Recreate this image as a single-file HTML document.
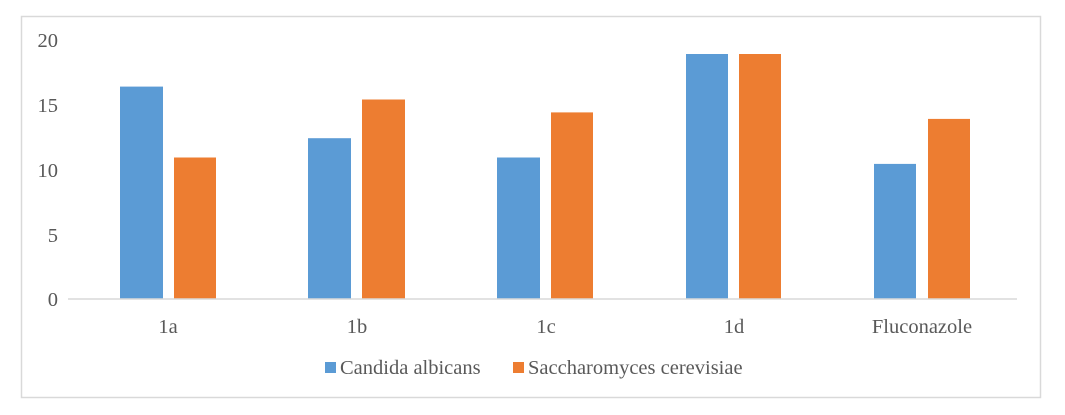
<!DOCTYPE html>
<html><head><style>body{margin:0;background:#fff}svg{display:block}text{font-family:"Liberation Serif",serif;fill:#595959}</style></head>
<body>
<svg width="1065" height="415" xmlns="http://www.w3.org/2000/svg">
<rect x="21.5" y="16.5" width="1019" height="381" fill="#fff" stroke="#d9d9d9" stroke-width="1.5"/>
<g font-size="20.5" text-anchor="end">
<text x="58" y="47">20</text><text x="58" y="112">15</text><text x="58" y="177">10</text><text x="58" y="242">5</text><text x="58" y="306">0</text>
</g>
<g fill="#5b9bd5">
<rect x="120" y="86.6" width="43" height="212.4"/>
<rect x="308" y="138.2" width="43" height="160.8"/>
<rect x="497" y="157.5" width="43" height="141.5"/>
<rect x="686" y="54" width="42" height="245"/>
<rect x="874" y="163.9" width="42" height="135.1"/>
</g>
<g fill="#ed7d31">
<rect x="174" y="157.5" width="42" height="141.5"/>
<rect x="362" y="99.5" width="43" height="199.5"/>
<rect x="551" y="112.4" width="42" height="186.6"/>
<rect x="739" y="54" width="42" height="245"/>
<rect x="928" y="118.9" width="42" height="180.1"/>
</g>
<line x1="68" y1="299" x2="1017" y2="299" stroke="#d9d9d9" stroke-width="1.5"/>
<g font-size="20.5" text-anchor="middle">
<text x="168" y="333">1a</text><text x="357" y="333">1b</text><text x="546" y="333">1c</text><text x="734" y="333">1d</text><text x="922" y="333">Fluconazole</text>
</g>
<rect x="325" y="362" width="11" height="11" fill="#5b9bd5"/>
<text x="340" y="374" font-size="20.5">Candida albicans</text>
<rect x="513" y="362" width="11" height="11" fill="#ed7d31"/>
<text x="528" y="374" font-size="20.5">Saccharomyces cerevisiae</text>
</svg>
</body></html>
